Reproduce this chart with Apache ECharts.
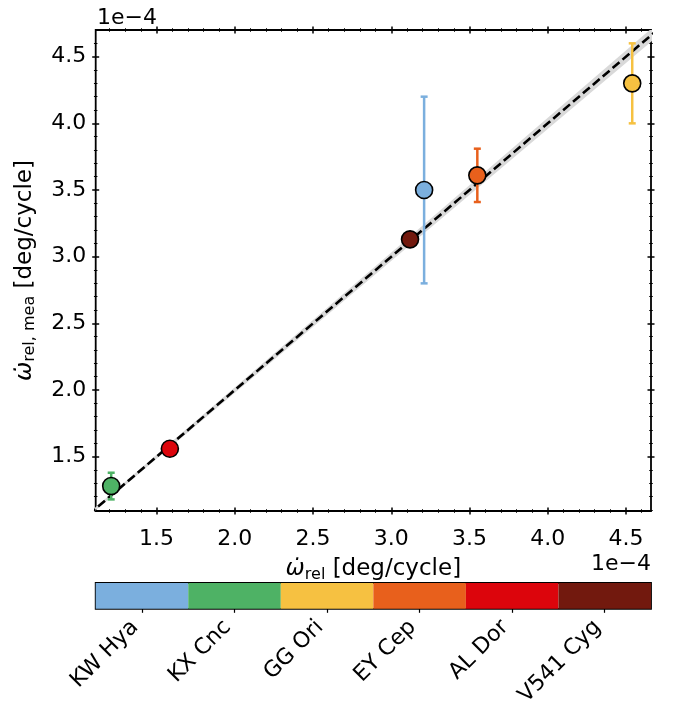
<!DOCTYPE html>
<html>
<head>
<meta charset="utf-8">
<script src="https://cdn.jsdelivr.net/npm/echarts@6/dist/echarts.min.js"></script>
<style>
  html, body { margin: 0; padding: 0; background: #fff; }
  #chart { width: 681px; height: 709px; }
</style>
</head>
<body>
<div id="chart"></div>
<script>
// values in units of 1e-4 deg/cycle
const stars = ['KW Hya', 'KX Cnc', 'GG Ori', 'EY Cep', 'AL Dor', 'V541 Cyg'];
const starColors = ['#7bafde', '#4eb265', '#f6c141', '#e8601c', '#dc050c', '#72190e'];
const omegaRel = [3.21, 1.21, 4.54, 3.55, 1.585, 3.12];
const omegaMea = [3.50, 1.28, 4.30, 3.61, 1.56, 3.13];
const omegaMeaErr = [0.70, 0.10, 0.30, 0.20, 0.02, 0.01];

// 1:1 line and its grey band
const diagX = [1.0, 4.8];
const diagY = [1.0, 4.8];
const bandLo = [0.99, 4.75];
const bandHi = [1.01, 4.85];

// ticks
const xMajor = [1.5, 2.0, 2.5, 3.0, 3.5, 4.0, 4.5];
const xMinor = [1.2, 1.3, 1.4, 1.6, 1.7, 1.8, 1.9, 2.1, 2.2, 2.3, 2.4, 2.6, 2.7, 2.8, 2.9, 3.1, 3.2, 3.3, 3.4, 3.6, 3.7, 3.8, 3.9, 4.1, 4.2, 4.3, 4.4, 4.6];
const yMajor = [1.5, 2.0, 2.5, 3.0, 3.5, 4.0, 4.5];
const yMinor = [1.1, 1.2, 1.3, 1.4, 1.6, 1.7, 1.8, 1.9, 2.1, 2.2, 2.3, 2.4, 2.6, 2.7, 2.8, 2.9, 3.1, 3.2, 3.3, 3.4, 3.6, 3.7, 3.8, 3.9, 4.1, 4.2, 4.3, 4.4, 4.6];
const xMin = 1.111, xMax = 4.66;
const yMin = 1.093, yMax = 4.70;

const FONT = 'DejaVu Sans';

var chart = echarts.init(document.getElementById('chart'), null, {renderer: 'canvas'});

// one axis = one set of ticks (major or minor, on one side), ticks drawn "inout" via offset
function valAxis(dim, pos, major, withLabel) {
  var ticks = dim === 'x' ? (major ? xMajor : xMinor) : (major ? yMajor : yMinor);
  var len = major ? 7 : 3.5;
  return {
    type: 'value',
    gridIndex: 0,
    position: pos,
    min: dim === 'x' ? xMin : yMin,
    max: dim === 'x' ? xMax : yMax,
    offset: len / 2,
    axisLine: {show: false},
    splitLine: {show: false},
    axisTick: {
      show: true, inside: true, length: len, customValues: ticks,
      lineStyle: {color: '#000', width: major ? 1.5 : 1}
    },
    axisLabel: {
      show: !!withLabel,
      customValues: xMajor,
      formatter: function (v) { return v.toFixed(1); },
      margin: dim === 'x' ? 14 : 6,
      fontFamily: FONT, fontSize: 22, color: '#000'
    }
  };
}

var xBottom = valAxis('x', 'bottom', true, true);
xBottom.name = '{w|ω̇}{sub|rel}{t| [deg/cycle]}';
xBottom.nameLocation = 'middle';
xBottom.nameGap = 42;
xBottom.nameTextStyle = {
  fontFamily: FONT, color: '#000',
  rich: {
    w: {fontFamily: FONT, fontSize: 23, fontStyle: 'italic', color: '#000'},
    sub: {fontFamily: FONT, fontSize: 16, color: '#000', padding: [10, 0, 0, 0]},
    t: {fontFamily: FONT, fontSize: 23, color: '#000'}
  }
};

var yLeft = valAxis('y', 'left', true, true);
yLeft.axisLabel.customValues = yMajor;
yLeft.name = '{w|ω̇}{sub|rel, mea}{t| [deg/cycle]}';
yLeft.nameLocation = 'middle';
yLeft.nameRotate = 90;
yLeft.nameGap = 54;
yLeft.nameTextStyle = xBottom.nameTextStyle;

var option = {
  backgroundColor: '#fff',
  animation: false,
  textStyle: {fontFamily: FONT},
  grid: [
    {left: 95.7, top: 30, width: 555.3, height: 481, show: true,
     borderColor: '#000', borderWidth: 1.8, backgroundColor: 'transparent'},
    {left: 95.7, top: 583, width: 555.3, height: 28, show: true,
     borderColor: '#000', borderWidth: 1.8, backgroundColor: 'transparent'}
  ],
  xAxis: [
    xBottom,
    valAxis('x', 'bottom', false),
    valAxis('x', 'top', true),
    valAxis('x', 'top', false),
    {
      type: 'category', gridIndex: 1, position: 'bottom', data: stars,
      boundaryGap: true,
      axisLine: {show: false},
      axisTick: {show: true, alignWithLabel: true, length: 4, lineStyle: {color: '#000', width: 1.2}},
      axisLabel: {rotate: 45, margin: 8, padding: [0, 10, 0, 0],
                  fontFamily: FONT, fontSize: 22, color: '#000'}
    }
  ],
  yAxis: [
    yLeft,
    valAxis('y', 'left', false),
    valAxis('y', 'right', true),
    valAxis('y', 'right', false),
    {type: 'value', gridIndex: 1, min: 0, max: 1, show: false}
  ],
  graphic: [
    {type: 'text', left: 97, top: 7, style: {text: '1e\u22124', font: '22px "DejaVu Sans"', fill: '#000'}},
    {type: 'text', right: 30, top: 553, style: {text: '1e\u22124', font: '22px "DejaVu Sans"', fill: '#000'}}
  ],
  series: [
    {
      // grey band around the 1:1 line
      type: 'custom',
      xAxisIndex: 0, yAxisIndex: 0,
      clip: true,
      silent: true,
      data: [[diagX[0], diagY[0]]],
      renderItem: function (params, api) {
        var pts = [];
        for (var i = 0; i < diagX.length; i++) pts.push(api.coord([diagX[i], bandLo[i]]));
        for (var j = diagX.length - 1; j >= 0; j--) pts.push(api.coord([diagX[j], bandHi[j]]));
        return {type: 'polygon', shape: {points: pts}, style: {fill: '#d9d9d9'}};
      },
      z: 1
    },
    {
      type: 'line',
      xAxisIndex: 0, yAxisIndex: 0,
      data: diagX.map(function (x, i) { return [x, diagY[i]]; }),
      symbol: 'none',
      lineStyle: {color: '#000', width: 2.6, type: [9, 4]},
      z: 2
    },
    {
      // error bars
      type: 'custom',
      xAxisIndex: 0, yAxisIndex: 0,
      data: omegaRel.map(function (x, i) {
        return [x, omegaMea[i] - omegaMeaErr[i], omegaMea[i] + omegaMeaErr[i], i];
      }),
      encode: {x: 0, y: [1, 2]},
      renderItem: function (params, api) {
        var x = api.value(0);
        var lo = api.coord([x, api.value(1)]);
        var hi = api.coord([x, api.value(2)]);
        var c = starColors[api.value(3)];
        var cap = 3.5;
        var st = {stroke: c, lineWidth: 2.5};
        return {
          type: 'group',
          children: [
            {type: 'line', shape: {x1: lo[0], y1: lo[1], x2: hi[0], y2: hi[1]}, style: st},
            {type: 'line', shape: {x1: lo[0] - cap, y1: lo[1], x2: lo[0] + cap, y2: lo[1]}, style: st},
            {type: 'line', shape: {x1: hi[0] - cap, y1: hi[1], x2: hi[0] + cap, y2: hi[1]}, style: st}
          ]
        };
      },
      z: 3
    },
    {
      type: 'scatter',
      xAxisIndex: 0, yAxisIndex: 0,
      symbolSize: 17,
      data: omegaRel.map(function (x, i) {
        return {value: [x, omegaMea[i]], itemStyle: {color: starColors[i]}};
      }),
      itemStyle: {borderColor: '#000', borderWidth: 1.6, opacity: 1},
      z: 4
    },
    {
      // colour bar
      type: 'bar',
      xAxisIndex: 4, yAxisIndex: 4,
      barCategoryGap: '0%',
      data: stars.map(function (s, i) {
        return {value: 1, itemStyle: {color: starColors[i]}};
      }),
      silent: true
    }
  ]
};
chart.setOption(option);
</script>
</body>
</html>
